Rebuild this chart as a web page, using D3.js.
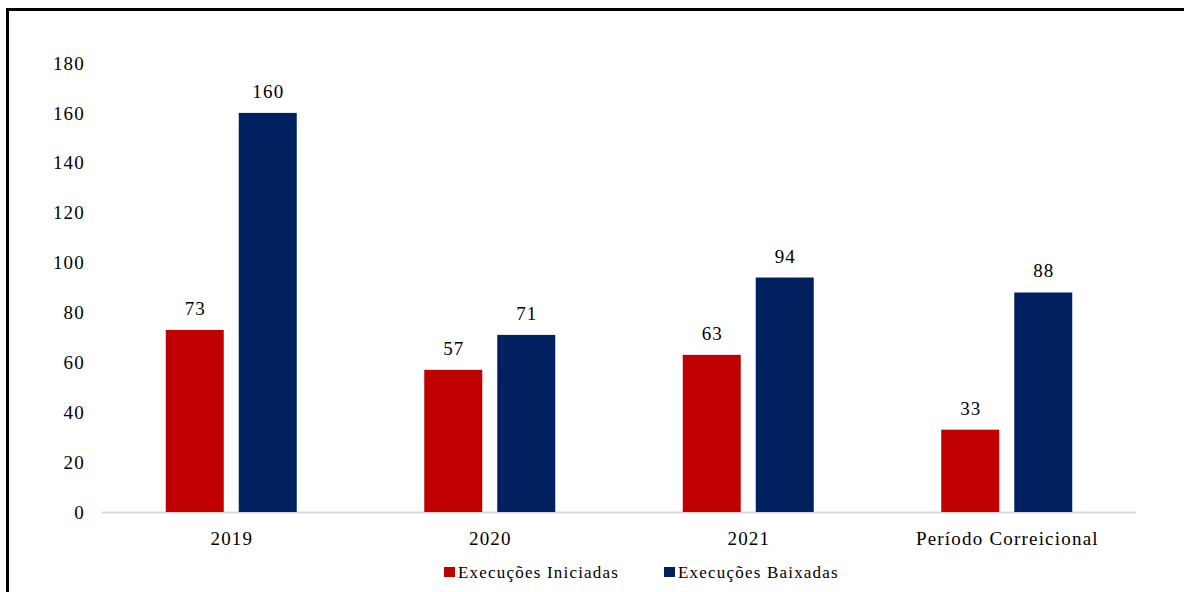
<!DOCTYPE html>
<html>
<head>
<meta charset="utf-8">
<script src="https://cdn.jsdelivr.net/npm/d3@7"></script>
<style>
  body { margin: 0; background: #fff; }
  text { font-family: "Liberation Serif", "Times New Roman", serif; fill: #000; letter-spacing: 1.2px; }
</style>
</head>
<body>
<svg id="chart" width="1184" height="592"></svg>
<script>
const categories = ['2019', '2020', '2021', 'Período Correicional'];
const seriesNames = ['Execuções Iniciadas', 'Execuções Baixadas'];
const iniciadas = [73, 57, 63, 33];
const baixadas = [160, 71, 94, 88];
const yTicks = [0, 20, 40, 60, 80, 100, 120, 140, 160, 180];
const colors = ['#C00000', '#002060'];

const svg = d3.select('#chart');

// frame lines (left + top)
svg.append('line').attr('x1', 7.5).attr('x2', 7.5).attr('y1', 8).attr('y2', 592)
  .attr('stroke', '#000').attr('stroke-width', 3);
svg.append('line').attr('x1', 6).attr('x2', 1184).attr('y1', 9.5).attr('y2', 9.5)
  .attr('stroke', '#000').attr('stroke-width', 3);

const x = d3.scaleBand().domain(categories).range([102, 1136]);
const y = d3.scaleLinear().domain([0, 180]).range([512, 63]);

const barW = 58, gap = 15;
const x1 = d3.scaleOrdinal().domain([0, 1]).range([-gap / 2 - barW, gap / 2]);

// y axis labels
svg.append('g').selectAll('text').data(yTicks).enter().append('text')
  .attr('x', 85).attr('y', d => y(d)).attr('dy', '0.35em')
  .attr('text-anchor', 'end').attr('font-size', 19)
  .text(d => d);

// baseline
svg.append('line').attr('x1', 102).attr('x2', 1136).attr('y1', y(0) + 0.5).attr('y2', y(0) + 0.5)
  .attr('stroke', '#d9d9d9').attr('stroke-width', 2);

const rows = categories.map((c, i) => ({ cat: c, vals: [iniciadas[i], baixadas[i]] }));

const groups = svg.append('g').selectAll('g').data(rows).enter().append('g')
  .attr('transform', d => `translate(${x(d.cat) + x.bandwidth() / 2},0)`);

groups.selectAll('rect').data(d => d.vals.map((v, s) => ({ v, s }))).enter().append('rect')
  .attr('x', d => x1(d.s)).attr('width', barW)
  .attr('y', d => y(d.v)).attr('height', d => y(0) - y(d.v))
  .attr('fill', d => colors[d.s]);

groups.selectAll('text.val').data(d => d.vals.map((v, s) => ({ v, s }))).enter().append('text')
  .attr('class', 'val')
  .attr('x', d => x1(d.s) + barW / 2 + 0.6).attr('y', d => y(d.v) - 15)
  .attr('text-anchor', 'middle').attr('font-size', 19)
  .text(d => d.v);

// x labels
svg.append('g').selectAll('text').data(categories).enter().append('text')
  .attr('x', d => x(d) + x.bandwidth() / 2 + 0.6).attr('y', 545)
  .attr('text-anchor', 'middle').attr('font-size', 19)
  .text(d => d);

// legend
const legendX = [444, 664];
const lg = svg.append('g').selectAll('g').data(seriesNames).enter().append('g')
  .attr('transform', (d, i) => `translate(${legendX[i]},567)`);
lg.append('rect').attr('width', 11).attr('height', 10).attr('fill', (d, i) => colors[i]);
lg.append('text').attr('x', 14).attr('y', 11).attr('font-size', 17).attr('letter-spacing', 1.1).text(d => d);
</script>
</body>
</html>
